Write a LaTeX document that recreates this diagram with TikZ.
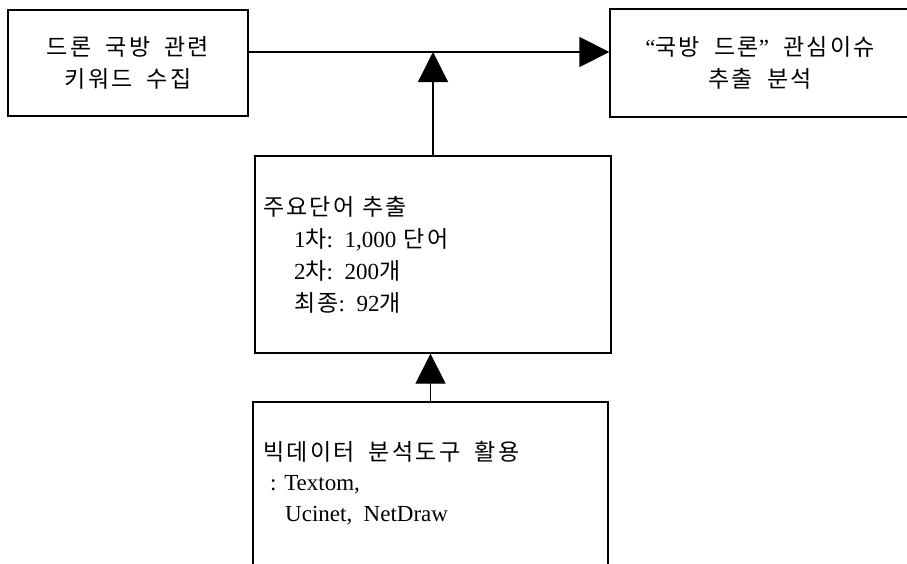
\documentclass[tikz,border=0pt]{standalone}
\usepackage{fontspec}
\setmainfont{Liberation Serif}
\newfontfamily\kr[WordSpace=1.9,LetterSpace=10]{Noto Sans CJK KR}
\usetikzlibrary{arrows.meta}
\begin{document}
\begin{tikzpicture}[x=1pt,y=-1pt,
  box/.style={draw=black, line width=1.3pt, inner sep=0pt},
  conn/.style={draw=black, line width=1.3pt, -{Triangle[length=30pt,width=30pt]}},
  txt/.style={font=\fontsize{23}{32}\selectfont}]
\useasboundingbox (0,0) rectangle (907,563);
\clip (0,0) rectangle (907,563);
\coordinate (h) at (0,52);
\node[box, txt, align=center, minimum width=240pt, minimum height=106pt] (kw) at (128,63)
  {{\kr 드론 국방 관련}\\{\kr 키워드 수집}};
\node[box, txt, align=center, minimum width=300pt, minimum height=108pt] (rb) at (760,63)
  {“{\kr 국방 드론}”{\kr\ 관심이슈}\\{\kr 추출 분석}};
\node[box, txt, align=left, inner xsep=8pt, text width=340pt, minimum height=197pt] (mid) at (433,254.5)
  {{\kr 주요단어 추출}\\
   \hspace*{31pt}1{\kr 차}: 1,000 {\kr 단어}\\
   \hspace*{31pt}2{\kr 차}: 200{\kr 개}\\
   \hspace*{31pt}{\kr 최종}: 92{\kr 개}};
\node[box, minimum width=355pt, minimum height=300pt] (bb) at (430.5,552) {};
\node[txt, font=\fontsize{23}{30.5}\selectfont, align=left, inner sep=0pt, anchor=north west] (bt) at (263,441)
  {{\kr 빅데이터 분석도구 활용}\\
   \hspace*{7pt}: Textom,\\
   \hspace*{22pt}Ucinet,\ \ NetDraw};
\draw[conn] (kw.east |- h) -- (rb.west |- h);
\draw[conn] (mid.north) -- (mid.north |- h);
\draw[conn] (bb.north) -- (bb.north |- mid.south);
\end{tikzpicture}
\end{document}
